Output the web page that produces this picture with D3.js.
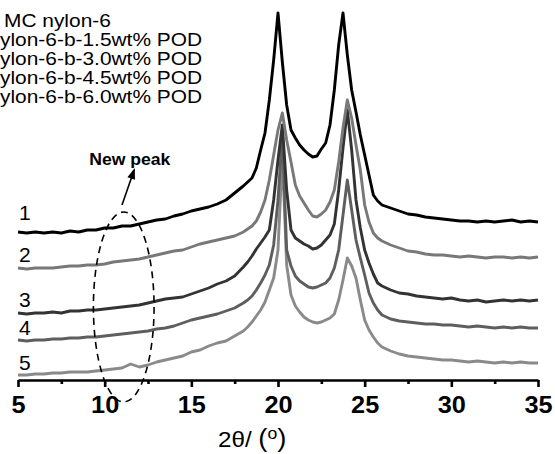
<!DOCTYPE html>
<html><head><meta charset="utf-8">
<script src="https://cdn.jsdelivr.net/npm/d3@7"></script>
<style>body{margin:0;background:#fff}svg{display:block}text{font-family:"Liberation Sans",Arial,Helvetica,sans-serif}</style>
</head><body><svg id="c" width="555" height="454"></svg>
<script>
// 2θ (degrees)
const twoTheta = [5,5.5,6,6.5,7,7.5,8,8.5,9,9.5,10,10.5,11,11.5,12,12.5,13,13.5,14,14.5,15,15.5,16,16.5,17,17.5,18,
  18.25,18.5,18.75,19,19.25,19.5,19.75,20,20.25,20.5,20.75,21,21.25,21.5,21.75,22,22.25,22.5,22.75,23,23.25,23.5,23.75,24,24.25,24.5,24.75,25,25.25,25.5,25.75,26,
  26.5,27,27.5,28,28.5,29,29.5,30,30.5,31,31.5,32,32.5,33,33.5,34,34.5,35];
// Intensity (a.u., curves stacked with offsets)
const curve1 = [148,147,148,147,148,147,149,148,150,150,152,152,154,154,156,158,160,161,164,166,169,171,173,176,180,187,194,
  198,202,212,230,247,280,320,367,318,275,250,242,235,230,226,223,224,231,237,255,290,335,367,325,290,268,245,225,205,185,179,175,
  172,169,166,165,163,162,161,160,159,159,158,159,158,159,160,158,159,158];
const curve2 = [112,111,112,112,112,113,114,114,115,115,116,118,119,120,121,123,125,127,129,130,133,136,138,140,142,144,148,
  151,154,159,168,180,200,225,250,267,240,218,195,184,177,170,164,163,166,170,178,190,218,252,280,262,235,210,175,158,147,142,139,
  135,132,129,128,126,125,125,124,123,124,123,122,123,123,122,123,122,123];
const curve3 = [67,66,67,67,68,67,69,69,70,70,71,72,73,74,75,77,79,81,82,83,86,89,92,96,99,104,113,
  118,124,131,137,143,150,180,220,255,190,150,142,139,136,134,131,132,135,140,145,156,190,232,270,230,180,152,130,117,106,97,94,
  90,87,86,84,83,82,81,82,80,79,80,78,79,80,79,80,79,80];
const curve4 = [40,39,40,40,41,41,42,42,43,43,44,45,46,47,48,49,51,52,54,57,60,62,64,66,69,72,77,
  80,84,90,97,105,115,135,180,245,130,114,104,99,96,93,92,93,95,97,102,112,130,165,200,170,140,122,105,87,77,70,65,
  61,59,58,57,56,56,55,55,54,53,54,53,52,53,52,53,52,52];
const curve5 = [5,5,6,6,7,7,8,8,8,9,10,11,12,16,13,15,18,20,22,24,28,30,34,37,39,44,49,
  53,58,64,70,78,90,102,130,225,115,85,74,68,63,60,58,57,58,60,62,66,80,100,122,114,102,80,60,50,43,37,33,
  29,26,24,23,22,21,20,20,19,18,19,18,17,18,17,18,17,17];

const legendLabels = ["MC nylon-6","nylon-6-b-1.5wt% POD","nylon-6-b-3.0wt% POD","nylon-6-b-4.5wt% POD","nylon-6-b-6.0wt% POD"];
const curveLabels = ["1","2","3","4","5"];
const majorTicks = [5,10,15,20,25,30,35];
const minorTicks = [7.5,12.5,17.5,22.5,27.5,32.5];
const annotationText = "New peak";

const series = [curve1,curve2,curve3,curve4,curve5];
const colors = ["#000000","#787878","#333333","#5e5e5e","#8a8a8a"];

const svg = d3.select("#c");
const x = d3.scaleLinear().domain([5,35]).range([18,538]);
const y = d3.scaleLinear().domain([0,380]).range([380,0]);

const line = d3.line().x((d,i)=>x(twoTheta[i])).y(d=>y(d));

// curves (draw lowest first)
for (let k = series.length-1; k >= 0; k--) {
  svg.append("path").datum(series[k])
    .attr("d", line).attr("fill","none")
    .attr("stroke", colors[k]).attr("stroke-width", 2.9)
    .attr("stroke-linejoin","round");
}

// axis
const axisMajor = d3.axisBottom(x).tickValues(majorTicks).tickSize(7).tickSizeOuter(0).tickFormat(d3.format("d"));
const gA = svg.append("g").attr("transform", `translate(0,${y(0)})`).call(axisMajor);
gA.select(".domain").attr("stroke","#000").attr("stroke-width",2.6);
gA.selectAll(".tick line").attr("stroke","#000").attr("stroke-width",2.6);
gA.selectAll(".tick text").attr("fill","#000").attr("y",33).attr("dy",0)
  .attr("transform","scale(1.1,1)")
  .style("font-size","23px").style("font-weight","bold");
const axisMinor = d3.axisBottom(x).tickValues(minorTicks).tickSize(4).tickSizeOuter(0).tickFormat("");
const gM = svg.append("g").attr("transform", `translate(0,${y(0)})`).call(axisMinor);
gM.select(".domain").remove();
gM.selectAll(".tick line").attr("stroke","#000").attr("stroke-width",2.6);

// axis title
const t = svg.append("text").attr("x",0).attr("y",447).attr("fill","#000")
  .attr("transform","translate(218,0) scale(1.1,1)");
t.append("tspan").text("2θ/ ").style("font-size","22px");
t.append("tspan").text("(").style("font-size","25px");
t.append("tspan").text("o").style("font-size","16px").attr("dy",-8);
t.append("tspan").text(")").style("font-size","25px").attr("dy",8);

// curve number labels
const labelOffsets = [12,6,6,5,5];
curveLabels.forEach((s,i)=>{
  svg.append("text").attr("x",19).attr("y", y(series[i][0]) - labelOffsets[i])
    .text(s).style("font-size","21px").attr("fill","#000");
});

// legend text (clipped at left edge as in reference)
legendLabels.forEach((s,i)=>{
  const tx = i===0 ? 4 : -11.6;
  svg.append("text").attr("x", 0).attr("y", 27.5 + i*18.8)
    .attr("transform", `translate(${tx},0) scale(1.1,1)`)
    .text(s).style("font-size","19px").attr("fill","#000");
});

// dashed ellipse around new peak
svg.append("ellipse")
  .attr("cx", x(11.1)).attr("cy", y(73))
  .attr("rx", x(12.85)-x(11.1)).attr("ry", 95)
  .attr("fill","none").attr("stroke","#000").attr("stroke-width",1.6)
  .attr("stroke-dasharray","7,5");

// arrow
const ax0 = x(11.0), ay0 = y(175), ax1 = x(11.7), ay1 = y(210);
svg.append("line").attr("x1",ax0).attr("y1",ay0).attr("x2",ax1).attr("y2",ay1)
  .attr("stroke","#000").attr("stroke-width",1.6);
const ang = Math.atan2(ay1-ay0, ax1-ax0), L = 9, W = 4;
const bx = ax1 - L*Math.cos(ang), by = ay1 - L*Math.sin(ang);
svg.append("path")
  .attr("d", `M${ax1+2*Math.cos(ang)},${ay1+2*Math.sin(ang)} L${bx - W*Math.sin(ang)},${by + W*Math.cos(ang)} L${bx + W*Math.sin(ang)},${by - W*Math.cos(ang)} Z`)
  .attr("fill","#000");

svg.append("text").attr("x", 0).attr("y", y(215)).attr("text-anchor","middle")
  .attr("transform", `translate(${x(11.45)},0) scale(1.1,1)`)
  .text(annotationText).style("font-size","16px").style("font-weight","bold").attr("fill","#000");
</script></body></html>
